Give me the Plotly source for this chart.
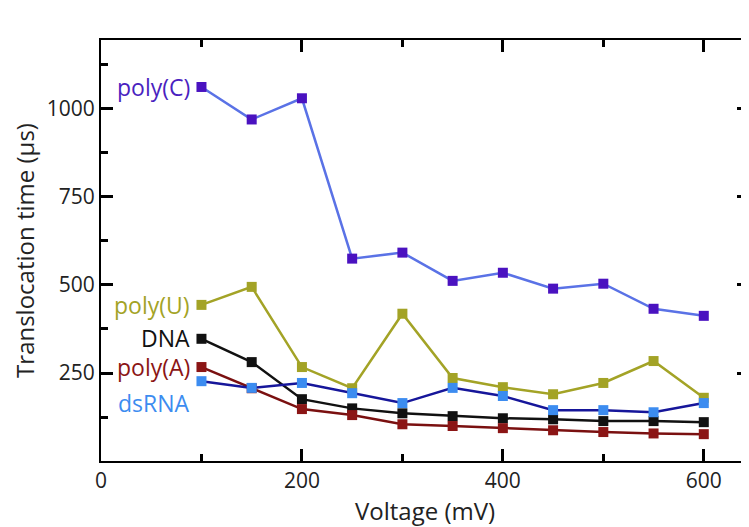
import plotly.graph_objects as go

voltage = [100, 150, 200, 250, 300, 350, 400, 450, 500, 550, 600]
poly_c = [1060, 968, 1028, 574, 591, 511, 534, 489, 503, 432, 412]
poly_u = [443, 494, 267, 207, 418, 236, 210, 190, 222, 284, 180]
dna = [347, 281, 176, 150, 136, 128, 122, 119, 114, 114, 111]
poly_a = [267, 207, 148, 131, 105, 100, 94, 88, 83, 79, 77]
ds_rna = [227, 208, 222, 193, 165, 208, 185, 145, 145, 139, 165]

series = [
    ("poly(U)", poly_u, "#A3A326", "#A3A326"),
    ("DNA", dna, "#111111", "#111111"),
    ("poly(A)", poly_a, "#7A1010", "#8B1515"),
    ("dsRNA", ds_rna, "#16169A", "#3C8CF0"),
    ("poly(C)", poly_c, "#5A72E6", "#4A12C0"),
]
labels = [
    ("poly(C)", 1060, "#4A1FC0"),
    ("poly(U)", 443, "#A3A326"),
    ("DNA", 350, "#111111"),
    ("poly(A)", 267, "#8B1515"),
    ("dsRNA", 166, "#3C8CF0"),
]

fig = go.Figure()
for name, ys, lc, mc in series:
    fig.add_trace(go.Scatter(
        x=voltage, y=ys, mode="lines+markers", name=name,
        line=dict(color=lc, width=2.5),
        marker=dict(symbol="square", size=10, color=mc),
        showlegend=False,
    ))

for text, yv, col in labels:
    fig.add_annotation(x=100, y=yv, text=text, xanchor="right", yanchor="middle",
                       xshift=-9, showarrow=False,
                       font=dict(size=23, color=col, family="Open Sans"))

fig.update_layout(
    width=741, height=519,
    margin=dict(l=93, r=0, t=32, b=66),
    plot_bgcolor="white", paper_bgcolor="white",
    font=dict(family="Open Sans", size=21, color="#222222"),
    xaxis=dict(range=[0, 645], tickmode="linear", tick0=0, dtick=200,
               showgrid=False, zeroline=False, automargin=False,
               showline=True, linecolor="black", linewidth=2, mirror="allticks",
               ticks="inside", ticklen=12, tickwidth=3, tickcolor="#000000",
               minor=dict(ticks="inside", ticklen=7, tickwidth=3, dtick=100, tickcolor="#000000", showgrid=False),
               title=dict(text="Voltage (mV)", font=dict(size=24), standoff=0)),
    yaxis=dict(range=[1, 1193], tickmode="linear", tick0=0, dtick=250,
               showgrid=False, zeroline=False, automargin=False,
               showline=True, linecolor="black", linewidth=2, mirror="allticks",
               ticks="inside", ticklen=12, tickwidth=3, tickcolor="#000000",
               minor=dict(ticks="inside", ticklen=7, tickwidth=3, dtick=125, tickcolor="#000000", showgrid=False),
               title=dict(text="Translocation time (µs)", font=dict(size=24), standoff=14)),
)

fig.write_html("out.html")
